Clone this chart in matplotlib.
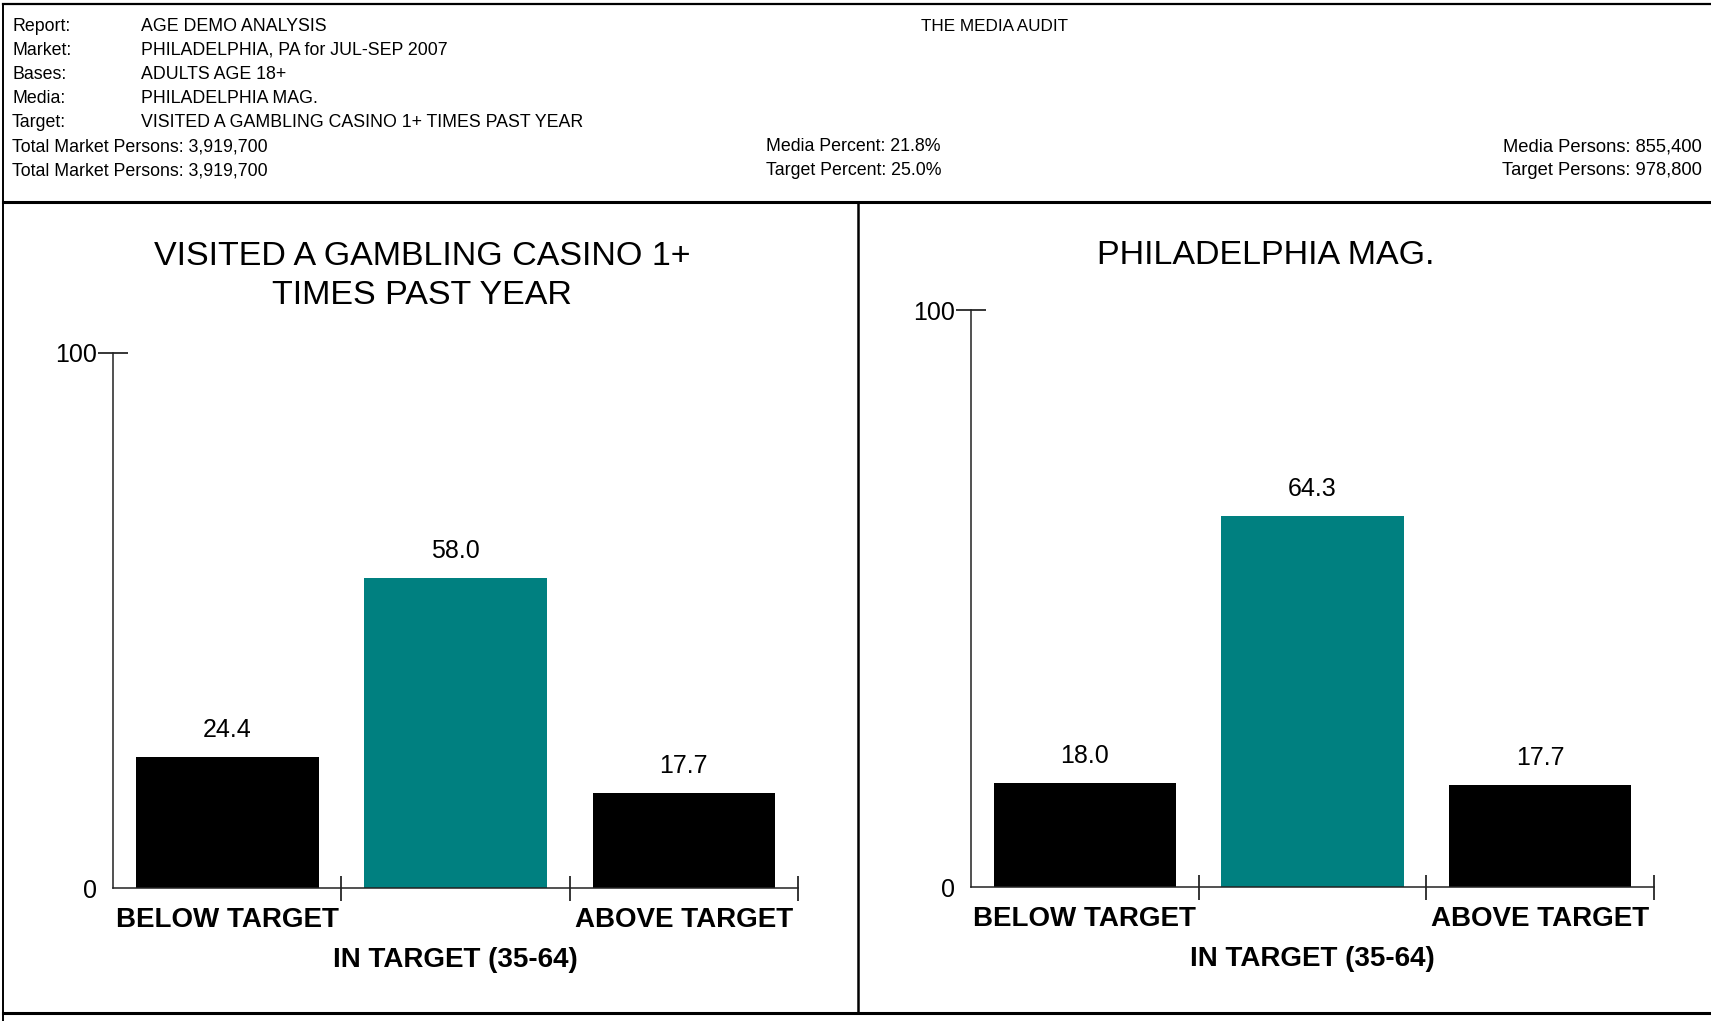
import matplotlib
matplotlib.use("Agg")
import matplotlib.pyplot as plt
from matplotlib.lines import Line2D

plt.rcParams['font.family'] = ['Liberation Sans', 'DejaVu Sans']

# Daten
categories = ["BELOW TARGET", "IN TARGET (35-64)", "ABOVE TARGET"]
target_values = [24.4, 58.0, 17.7]
media_values = [18.0, 64.3, 17.7]
bar_colors = ["#000000", "#008080", "#000000"]

target_title = ["VISITED A GAMBLING CASINO 1+", "TIMES PAST YEAR"]
media_title = "PHILADELPHIA MAG."

header_keys = ["Report:", "Market:", "Bases:", "Media:", "Target:"]
header_vals = ["AGE DEMO ANALYSIS", "PHILADELPHIA, PA for JUL-SEP 2007",
               "ADULTS AGE 18+", "PHILADELPHIA MAG.",
               "VISITED A GAMBLING CASINO 1+ TIMES PAST YEAR"]
totals_left = ["Total Market Persons: 3,919,700", "Total Market Persons: 3,919,700"]
totals_mid = ["Media Percent: 21.8%", "Target Percent: 25.0%"]
totals_right = ["Media Persons: 855,400", "Target Persons: 978,800"]

W, H = 1711, 1021
fig = plt.figure(figsize=(W / 100, H / 100), dpi=100)


def fx(x):
    return x / W


def fy(y):
    return 1 - y / H


def hline(y, x0, x1, lw):
    fig.add_artist(Line2D([fx(x0), fx(x1)], [fy(y), fy(y)], color="black",
                          lw=lw, transform=fig.transFigure))


def vline(x, y0, y1, lw):
    fig.add_artist(Line2D([fx(x), fx(x)], [fy(y0), fy(y1)], color="black",
                          lw=lw, transform=fig.transFigure))


# Rahmen
hline(4, 3, W, 1.6)
vline(3, 4, H, 1.4)
hline(202, 3, W, 2.2)
vline(858, 202, 1013, 1.8)
hline(1013, 3, W, 2.2)

# Kopfzeilen
HFS = 12.8
for i, (k, v) in enumerate(zip(header_keys, header_vals)):
    y = 26 + 24.1 * i
    fig.text(fx(12), fy(y), k, fontsize=HFS, va="center", ha="left")
    fig.text(fx(141), fy(y), v, fontsize=HFS, va="center", ha="left")
fig.text(fx(921), fy(26), "THE MEDIA AUDIT", fontsize=12.3, va="center", ha="left")
for i in range(2):
    y = 146.5 + 24.1 * i
    fig.text(fx(12), fy(y), totals_left[i], fontsize=HFS, va="center", ha="left")
    fig.text(fx(766), fy(y), totals_mid[i], fontsize=HFS, va="center", ha="left")
    fig.text(fx(1702), fy(y), totals_right[i], fontsize=13.2, va="center", ha="right")


def draw_panel(rect, values):
    ax = fig.add_axes(rect)
    x = list(range(len(values)))
    bars = ax.bar(x, values, width=0.8, color=bar_colors)
    ax.set_xlim(-0.5, 2.5)
    ax.set_ylim(0, 100)
    for s in ["top", "right"]:
        ax.spines[s].set_visible(False)
    for s in ["left", "bottom"]:
        ax.spines[s].set_linewidth(1.1)
        ax.spines[s].set_color("#222222")

    # Werte über den Balken
    for b, v in zip(bars, values):
        ax.annotate(f"{v:.1f}", (b.get_x() + b.get_width() / 2, v),
                    xytext=(0, 19.5), textcoords="offset points",
                    ha="center", va="center", fontsize=18)

    # y-Achse
    ax.set_yticks([0, 100])
    ax.set_yticklabels(["0", "100"], fontsize=18)
    ax.tick_params(axis="y", direction="inout", length=21, width=1.1, pad=1)
    ax.yaxis.get_major_ticks()[0].tick1line.set_visible(False)

    # x-Achse: Trennstriche + gestaffelte Beschriftung
    ax.set_xticks([0.5, 1.5, 2.5], minor=True)
    ax.tick_params(axis="x", which="minor", direction="inout", length=18, width=1.1)
    ax.set_xticks(x)
    ax.set_xticklabels(categories, fontsize=20, fontweight="bold")
    ax.tick_params(axis="x", which="major", length=0, pad=14)
    ax.xaxis.get_major_ticks()[1].set_pad(42.5)
    return ax


ax1 = draw_panel([fx(113), fy(888), (798 - 113) / W, (888 - 353) / H], target_values)
ax2 = draw_panel([fx(971), fy(887), (1654 - 971) / W, (887 - 310) / H], media_values)

fig.text(fx(422), fy(256), target_title[0], fontsize=24.5, ha="center", va="center")
fig.text(fx(422), fy(295), target_title[1], fontsize=24.5, ha="center", va="center")
fig.text(fx(1266), fy(255), media_title, fontsize=24.5, ha="center", va="center")

fig.savefig("out.png", dpi=100)
